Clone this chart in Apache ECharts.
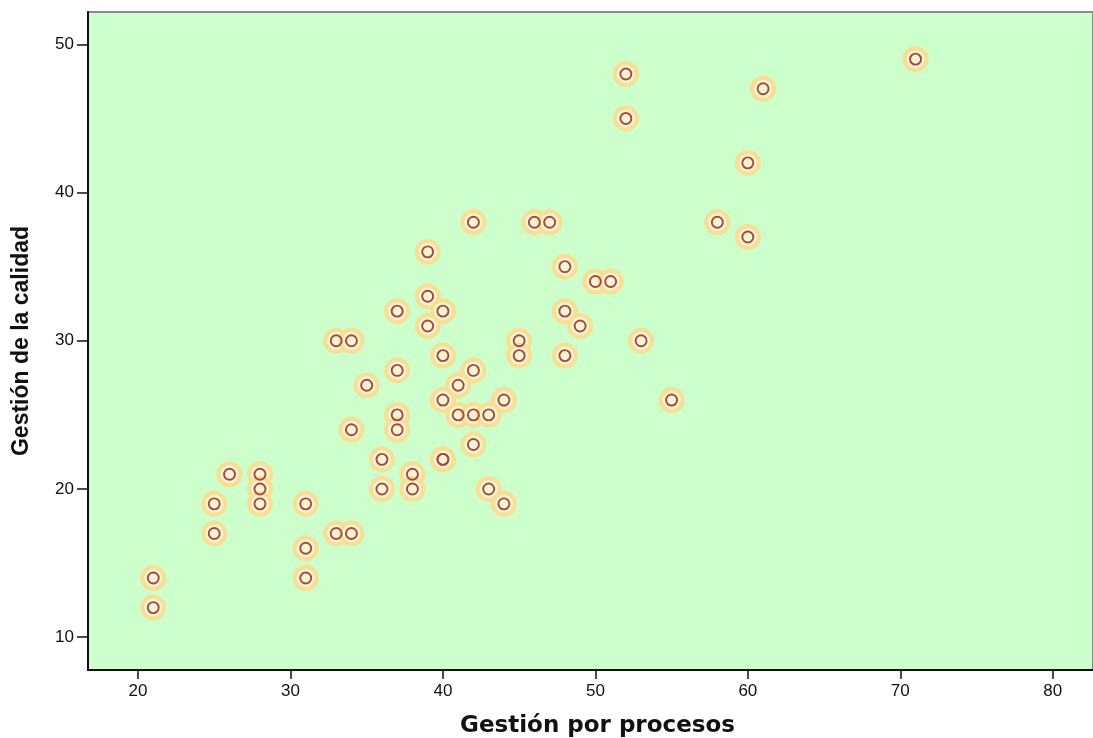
<!DOCTYPE html>
<html>
<head>
<meta charset="utf-8">
<script src="https://cdn.jsdelivr.net/npm/echarts@6/dist/echarts.min.js"></script>
<style>
html,body{margin:0;padding:0;background:#fff;}
#c{width:1093px;height:738px;}
</style>
</head>
<body>
<div id="c"></div>
<script>
// Gestión por procesos (x) vs Gestión de la calidad (y)
const procesos = [71,52,61,52,60,42,46,47,58,60,39,48,50,51,39,37,40,48,39,49,33,34,45,53,40,45,48,37,42,35,41,40,44,55,37,41,42,43,34,37,42,36,40,40,26,28,38,28,36,38,43,25,28,31,44,25,33,34,31,21,31,21];
const calidad  = [49,48,47,45,42,38,38,38,38,37,36,35,34,34,33,32,32,32,31,31,30,30,30,30,29,29,29,28,28,27,27,26,26,26,25,25,25,25,24,24,23,22,22,22,21,21,21,20,20,20,20,19,19,19,19,17,17,17,16,14,14,12];
const xTicks = [20,30,40,50,60,70,80];
const yTicks = [10,20,30,40,50];
const xTitle = 'Gestión por procesos';
const yTitle = 'Gestión de la calidad';

const points = procesos.map((v,i)=>[v, calidad[i]]);

const chart = echarts.init(document.getElementById('c'), null, {renderer:'canvas'});
const labelFont = {fontFamily:'Liberation Sans, Arial, sans-serif', fontSize:17, color:'#111'};
chart.setOption({
  animation:false,
  backgroundColor:'#ffffff',
  grid:{left:88, right:0, top:12, bottom:68, outerBoundsMode:'none', containLabel:false, show:true, backgroundColor:'#CCFFCC', borderColor:'#8a8a8a', borderWidth:2},
  xAxis:{
    type:'value', min:16.72, max:82.64,
    name:xTitle, nameLocation:'middle', nameGap:45,
    nameTextStyle:{fontFamily:'DejaVu Sans, sans-serif', fontWeight:'bold', fontSize:23, color:'#111', padding:[0,0,0,14]},
    axisLine:{show:true, onZero:false, lineStyle:{color:'#111', width:2}},
    axisTick:{show:true, length:9, customValues:xTicks, lineStyle:{color:'#111', width:1.5}},
    axisLabel:Object.assign({margin:13, customValues:xTicks}, labelFont),
    splitLine:{show:false}
  },
  yAxis:{
    type:'value', min:7.79, max:52.18,
    name:yTitle, nameLocation:'middle', nameGap:55, nameRotate:90,
    nameTextStyle:{fontFamily:'Liberation Sans, Arial, sans-serif', fontWeight:'bold', fontSize:23, color:'#111'},
    axisLine:{show:true, onZero:false, lineStyle:{color:'#111', width:2}},
    axisTick:{show:true, length:11, customValues:yTicks, lineStyle:{color:'#111', width:1.5}},
    axisLabel:Object.assign({margin:14, customValues:yTicks}, labelFont),
    splitLine:{show:false}
  },
  series:[
    {
      type:'scatter', data:points, symbol:'circle', symbolSize:22, silent:true,
      itemStyle:{color:'rgba(250,246,205,0.85)', borderColor:'#F9DE95', borderWidth:4, opacity:1}
    },
    {
      type:'scatter', data:points, symbol:'circle', symbolSize:11, silent:true,
      itemStyle:{color:'rgba(0,0,0,0)', borderColor:'#A8444C', borderWidth:1.9, opacity:1}
    }
  ]
});
</script>
</body>
</html>
